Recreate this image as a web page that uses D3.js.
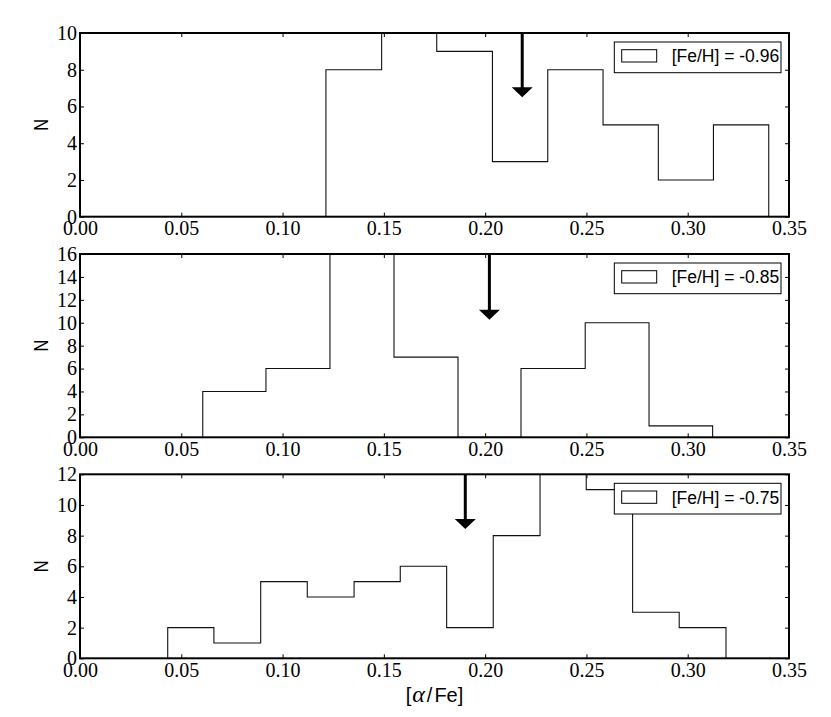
<!DOCTYPE html>
<html><head><meta charset="utf-8">
<script src="https://cdn.jsdelivr.net/npm/d3@7"></script>
<style>body{margin:0;background:#fff}
.tk text{font-family:"Liberation Serif","Times New Roman",serif !important;font-size:20px !important;}
</style></head>
<body>
<script>
// ---- data ----
const xTicks = [0.00, 0.05, 0.10, 0.15, 0.20, 0.25, 0.30, 0.35];

const edges1 = [0.1214, 0.1489, 0.1761, 0.2036, 0.2309, 0.2582, 0.2855, 0.3127, 0.3400];
const counts1 = [8, 10, 9, 3, 8, 5, 2, 5];
const edges2 = [0.0606, 0.0918, 0.1234, 0.1550, 0.1866, 0.2177, 0.2494, 0.2809, 0.3123];
const counts2 = [4, 6, 16, 7, 0, 6, 10, 1];
const edges3 = [0.0433, 0.0661, 0.0892, 0.1122, 0.1353, 0.1581, 0.1810, 0.2040, 0.2271, 0.2499, 0.2728, 0.2958, 0.3189];
const counts3 = [2, 1, 5, 4, 5, 6, 2, 8, 12, 11, 3, 2];

const yMax = [10, 16, 12];
const yTicks1 = [0, 2, 4, 6, 8, 10];
const yTicks2 = [0, 2, 4, 6, 8, 10, 12, 14, 16];
const yTicks3 = [0, 2, 4, 6, 8, 10, 12];

const legendLabels = ["[Fe/H] = -0.96", "[Fe/H] = -0.85", "[Fe/H] = -0.75"];
const arrowX = [0.2183, 0.2021, 0.1902];
const arrowTip = [6.5, 10.25, 8.43];

// ---- layout ----
const W = 831, H = 717;
const left = 80, right = 789;
const frames = [{top: 33, bottom: 216.7}, {top: 254, bottom: 437.3}, {top: 474.3, bottom: 658.3}];
const panels = [
  {edges: edges1, counts: counts1, ymax: yMax[0], yticks: yTicks1},
  {edges: edges2, counts: counts2, ymax: yMax[1], yticks: yTicks2},
  {edges: edges3, counts: counts3, ymax: yMax[2], yticks: yTicks3}
];

const svg = d3.select("body").append("svg").attr("width", W).attr("height", H)
  .style("background", "#fff");
const x = d3.scaleLinear().domain([0, 0.35]).range([left, right]);
const serif = "'Liberation Serif', 'Times New Roman', serif";
const sans = "'Liberation Sans', Arial, sans-serif";

panels.forEach((p, i) => {
  const fr = frames[i];
  const y = d3.scaleLinear().domain([0, p.ymax]).range([fr.bottom, fr.top]);
  const g = svg.append("g");
  const cid = "clip" + i;
  svg.append("clipPath").attr("id", cid).append("rect")
    .attr("x", left).attr("y", fr.top).attr("width", right - left).attr("height", fr.bottom - fr.top);

  // step histogram
  const pts = [[p.edges[0], 0]];
  p.counts.forEach((c, k) => { pts.push([p.edges[k], c]); pts.push([p.edges[k + 1], c]); });
  pts.push([p.edges[p.edges.length - 1], 0]);
  const line = d3.line().x(d => x(d[0])).y(d => y(d[1]));
  g.append("path").attr("d", line(pts)).attr("fill", "none")
    .attr("stroke", "#111").attr("stroke-width", 1.1).attr("clip-path", `url(#${cid})`);

  // arrow
  const ax = x(arrowX[i]), tipY = y(arrowTip[i]);
  g.append("line").attr("x1", ax).attr("x2", ax).attr("y1", fr.top).attr("y2", tipY - 8)
    .attr("stroke", "#000").attr("stroke-width", 3);
  g.append("path").attr("d", `M${ax},${tipY}L${ax - 10.5},${tipY - 10}L${ax + 10.5},${tipY - 10}Z`)
    .attr("fill", "#000");

  // legend
  const lw = 166.7, lh = 30.7;
  const lx = right - 8 - lw, ly = fr.top + 9;
  g.append("rect").attr("x", lx).attr("y", ly).attr("width", lw).attr("height", lh)
    .attr("fill", "#fff").attr("stroke", "#000").attr("stroke-width", 1);
  g.append("rect").attr("x", lx + 7.4).attr("y", ly + 7.7).attr("width", 35).attr("height", 12.3)
    .attr("fill", "#fff").attr("stroke", "#000").attr("stroke-width", 1);
  g.append("text").attr("x", lx + 57.4).attr("y", ly + 20.4)
    .style("font-family", sans).style("font-size", "17.5px").attr("fill", "#000")
    .text(legendLabels[i]);

  // axes
  const styleAxis = sel => {
    sel.attr("class", "tk").attr("font-family", null).attr("font-size", null);
    sel.select(".domain").remove();
    sel.selectAll(".tick line").attr("stroke", "#000").attr("stroke-width", 1);
    sel.selectAll(".tick text").style("font-family", serif).style("font-size", "20px").attr("fill", "#000");
  };
  g.append("g").attr("transform", `translate(0,${fr.bottom})`)
    .call(d3.axisBottom(x).tickValues(xTicks).tickSizeInner(-4).tickSizeOuter(0)
      .tickPadding(4.3).tickFormat(d3.format(".2f")))
    .call(styleAxis);
  g.append("g").attr("transform", `translate(0,${fr.top})`)
    .call(d3.axisTop(x).tickValues(xTicks).tickSizeInner(-4).tickSizeOuter(0).tickFormat(""))
    .call(styleAxis);
  g.append("g").attr("transform", `translate(${left},0)`)
    .call(d3.axisLeft(y).tickValues(p.yticks).tickSizeInner(-4).tickSizeOuter(0)
      .tickPadding(3).tickFormat(d3.format("d")))
    .call(styleAxis);
  g.append("g").attr("transform", `translate(${right},0)`)
    .call(d3.axisRight(y).tickValues(p.yticks).tickSizeInner(-4).tickSizeOuter(0).tickFormat(""))
    .call(styleAxis);

  // frame
  g.append("rect").attr("x", left).attr("y", fr.top).attr("width", right - left)
    .attr("height", fr.bottom - fr.top).attr("fill", "none").attr("stroke", "#000").attr("stroke-width", 2);

  // y label
  g.append("text")
    .attr("transform", `translate(48.3,${(fr.top + fr.bottom) / 2}) rotate(-90) scale(0.78,1)`)
    .attr("text-anchor", "middle").style("font-family", sans).style("font-size", "21px").attr("fill", "#000")
    .text("N");
});

// x label
const xl = svg.append("text").attr("x", (left + right) / 2).attr("y", 701.7)
  .attr("text-anchor", "middle").style("font-family", sans).style("font-size", "20px").attr("fill", "#000");
xl.append("tspan").text("[");
xl.append("tspan").style("font-family", serif).style("font-style", "italic").style("font-size", "24px").attr("dx", 1).text("α");
xl.append("tspan").attr("dx", 2).text("/");
xl.append("tspan").attr("dx", 2).text("Fe]");
</script>
</body></html>
